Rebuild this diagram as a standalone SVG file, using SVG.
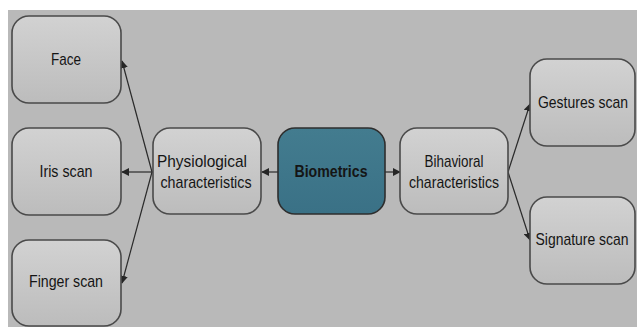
<svg xmlns="http://www.w3.org/2000/svg" width="637" height="327" viewBox="0 0 637 327">
<defs>
<linearGradient id="g" x1="0" y1="0" x2="0" y2="1">
<stop offset="0" stop-color="#d2d2d2"/>
<stop offset="1" stop-color="#bcbcbc"/>
</linearGradient>
<linearGradient id="b" x1="0" y1="0" x2="0" y2="1">
<stop offset="0" stop-color="#437c8f"/>
<stop offset="1" stop-color="#3a7186"/>
</linearGradient>
<marker id="ah" viewBox="0 0 10 10" refX="9" refY="5" markerWidth="8" markerHeight="8" markerUnits="userSpaceOnUse" orient="auto">
<path d="M0,0 L10,5 L0,10 z" fill="#262626"/>
</marker>
</defs>
<style>
.n{fill:url(#g);stroke:#4a4a4a;stroke-width:1.6}
.bio{fill:url(#b);stroke:#2e2e2e;stroke-width:1.6}
text{font-family:"Liberation Sans",Arial,sans-serif;font-size:17px;fill:#151515;text-anchor:middle}
.c line{stroke:#2a2a2a;stroke-width:1.2;marker-end:url(#ah)}
</style>
<rect x="0" y="0" width="637" height="327" fill="#ffffff"/>
<rect x="8" y="10" width="629" height="317" fill="#b9b9b9"/>
<g class="c" id="connectors">
<line x1="152" y1="172" x2="122" y2="61"/>
<line x1="153" y1="172" x2="122" y2="172"/>
<line x1="152" y1="172" x2="122" y2="283"/>
<line x1="278" y1="172" x2="262" y2="172"/>
<line x1="385" y1="172" x2="400" y2="172"/>
<line x1="508" y1="172" x2="530" y2="104"/>
<line x1="508" y1="172" x2="530" y2="240"/>
</g>
<g id="face"><rect class="n" x="12" y="16" width="109" height="87" rx="17"/><text x="66" y="65" textLength="30" lengthAdjust="spacingAndGlyphs">Face</text></g>
<g id="iris"><rect class="n" x="12" y="128" width="109" height="87" rx="17"/><text x="66" y="177" textLength="53" lengthAdjust="spacingAndGlyphs">Iris scan</text></g>
<g id="finger"><rect class="n" x="12" y="240" width="109" height="86" rx="17"/><text x="66" y="287" textLength="74" lengthAdjust="spacingAndGlyphs">Finger scan</text></g>
<g id="physio"><rect class="n" x="153" y="128" width="108" height="86" rx="17"/><text x="202" y="167" textLength="90" lengthAdjust="spacingAndGlyphs">Physiological</text><text x="206" y="188" textLength="91" lengthAdjust="spacingAndGlyphs">characteristics</text></g>
<g id="biometrics"><rect class="bio" x="278" y="128" width="107" height="86" rx="17"/><text x="331" y="177" font-weight="bold" textLength="73" lengthAdjust="spacingAndGlyphs">Biometrics</text></g>
<g id="behav"><rect class="n" x="400" y="128" width="108" height="86" rx="17"/><text x="454" y="167" textLength="59" lengthAdjust="spacingAndGlyphs">Bihavioral</text><text x="454" y="188" textLength="90" lengthAdjust="spacingAndGlyphs">characteristics</text></g>
<g id="gestures"><rect class="n" x="530" y="59" width="105" height="87" rx="17"/><text x="583" y="108" textLength="90" lengthAdjust="spacingAndGlyphs">Gestures scan</text></g>
<g id="signature"><rect class="n" x="530" y="197" width="105" height="87" rx="17"/><text x="582" y="245" textLength="93" lengthAdjust="spacingAndGlyphs">Signature scan</text></g>
</svg>
